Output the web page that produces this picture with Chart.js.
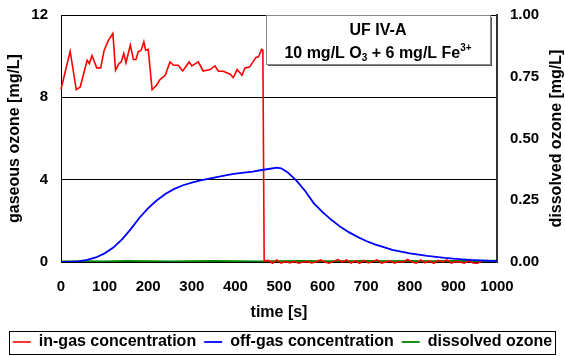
<!DOCTYPE html>
<html>
<head>
<meta charset="utf-8">
<script src="https://cdn.jsdelivr.net/npm/chart.js@4/dist/chart.umd.min.js"></script>
<style>
  html, body { margin: 0; padding: 0; background: #fff; }
  #wrap { width: 565px; height: 356px; }
</style>
</head>
<body>
<div id="wrap"><canvas id="Chart" width="565" height="356"></canvas></div>
<script>
// 凡例ラベル
let seriesLabels = ['in-gas concentration', 'off-gas concentration', 'dissolved ozone'];
let seriesColors = ['#FF0000', '#0000FF', '#008000'];

// in-gas (左軸 mg/L)
let inGasTime = [0, 21, 35, 44, 60, 65, 71, 82, 91, 99, 109, 119, 125, 133, 138, 144, 149, 159, 166, 172, 177, 184, 190, 194, 200,
  209, 219, 227, 239, 250, 258, 269, 279, 294, 300, 315, 326, 342, 353, 361, 372, 388, 395, 404, 415, 422, 433, 447, 453, 460, 463,
  466, 475, 485, 495, 505, 515, 525, 535, 545, 555, 565, 575, 585, 595, 605, 615, 625, 635, 645, 655, 665, 675, 685, 695, 705,
  715, 725, 735, 745, 755, 765, 775, 785, 795, 805, 815, 825, 835, 845, 855, 865, 875, 885, 895, 905, 915, 925, 935, 945, 955,
  965, 975, 985, 995];
let inGasValue = [8.39, 10.24, 8.37, 8.5, 9.8, 9.64, 10.03, 9.43, 9.43, 10.29, 10.78, 11.1, 9.32, 9.64, 9.72, 10.13, 9.68, 10.54,
  9.84, 9.84, 10.21, 10.29, 10.7, 10.29, 10.33, 8.37, 8.59, 8.86, 9.07, 9.72, 9.56, 9.56, 9.28, 9.72, 9.53, 9.72, 9.28, 9.35,
  9.53, 9.27, 9.27, 9.12, 8.96, 9.35, 9.07, 9.43, 9.48, 9.94, 9.97, 10.33, 10.3,
  0.05, 0.08, -0.06, 0.1, -0.05, 0.02, -0.04, 0.03, -0.06, 0.0, 0.02, -0.05, 0.0, 0.1, 0.0, -0.06, 0.03, 0.12, 0.0, 0.1, -0.05,
  0.05, -0.06, 0.08, -0.04, 0.02, 0.1, -0.05, 0.0, 0.05, -0.06, 0.02, 0.0, 0.12, 0.0, -0.05, 0.1, -0.04, 0.05, -0.06, 0.08,
  0.0, 0.1, -0.05, 0.02, 0.0, -0.06, 0.05, -0.05, -0.06, 0.02];

// off-gas (左軸 mg/L)
let offGasTime = [0, 20, 40, 60, 80, 100, 120, 140, 160, 180, 200, 220, 240, 260, 280, 300, 320, 340, 360, 380, 400, 420, 440,
  460, 480, 495, 505, 520, 540, 560, 580, 600, 620, 640, 660, 680, 700, 720, 740, 760, 780, 800, 820, 840, 860, 880, 900, 920,
  940, 960, 980, 1000];
let offGasValue = [0.0, 0.0, 0.03, 0.1, 0.22, 0.42, 0.7, 1.1, 1.6, 2.15, 2.62, 3.0, 3.32, 3.55, 3.73, 3.86, 3.96, 4.05, 4.14,
  4.22, 4.29, 4.34, 4.39, 4.47, 4.53, 4.58, 4.55, 4.35, 3.95, 3.45, 2.85, 2.42, 2.05, 1.72, 1.45, 1.22, 1.02, 0.86, 0.72, 0.59,
  0.5, 0.42, 0.36, 0.3, 0.25, 0.2, 0.16, 0.13, 0.1, 0.08, 0.06, 0.05];

// dissolved (右軸 mg/L)
let dissolvedTime = [0, 50, 100, 150, 200, 250, 300, 350, 400, 450, 500, 550, 600, 650, 700, 750, 800, 850, 900, 950, 1000];
let dissolvedValue = [0.002, 0.003, 0.002, 0.004, 0.003, 0.002, 0.003, 0.004, 0.003, 0.002, 0.003, 0.004, 0.003, 0.003, 0.004,
  0.003, 0.004, 0.003, 0.004, 0.004, 0.005];

// 軸目盛り
let timeTicks = [0, 100, 200, 300, 400, 500, 600, 700, 800, 900, 1000];
let leftTicks = [0, 4, 8, 12];
let rightTicks = [0, 0.25, 0.5, 0.75, 1.0];
let rightTitle = 'dissolved ozone [mg/L]';

let FONT = 'Liberation Sans, Arial, sans-serif';

function toPoints(xs, ys) {
  return xs.map((t, i) => ({x: t, y: ys[i]}));
}

// 軸のサイズ固定（余白を消す）
function fixSize(w, h) {
  return (s) => {
    if (w) s.width = w;
    if (h) s.height = h;
    s.paddingTop = 0;
    s.paddingBottom = 0;
    s.paddingLeft = 0;
    s.paddingRight = 0;
  };
}

// 凡例の枠・右軸タイトル・注記ボックス
let boxPlugin = {
  id: 'boxPlugin',
  afterDraw(chart) {
    let ctx = chart.ctx;
    let lg = chart.legend;
    if (lg && lg.legendHitBoxes && lg.legendHitBoxes.length) {
      let hb = lg.legendHitBoxes;
      let l = hb[0].left - 4;
      let r = hb[hb.length - 1].left + hb[hb.length - 1].width + 3;
      ctx.save();
      ctx.strokeStyle = '#000';
      ctx.lineWidth = 1;
      ctx.strokeRect(Math.round(l) + 0.5, 331.5, Math.round(r - l), 23);
      ctx.restore();
    }
    let a = chart.chartArea;
    // 右軸タイトル（下から上へ）
    ctx.save();
    ctx.translate(557, (a.top + a.bottom) / 2);
    ctx.rotate(-Math.PI / 2);
    ctx.fillStyle = '#000';
    ctx.font = 'bold 16px ' + FONT;
    ctx.textAlign = 'center';
    ctx.textBaseline = 'middle';
    ctx.fillText(rightTitle, 0, 0);
    ctx.restore();
    // 注記
    let bx = 266, by = a.top, bw = 224, bh = 49;
    ctx.save();
    ctx.fillStyle = '#fff';
    ctx.fillRect(bx, by, bw, bh);
    ctx.fillStyle = '#555';
    ctx.fillRect(bx + bw, by + 2, 2, bh);
    ctx.fillRect(bx + 2, by + bh, bw, 2);
    ctx.strokeStyle = '#888';
    ctx.lineWidth = 1;
    ctx.strokeRect(bx + 0.5, by + 0.5, bw, bh);
    ctx.fillStyle = '#000';
    ctx.textBaseline = 'alphabetic';
    ctx.textAlign = 'left';
    let cx = bx + bw / 2;
    ctx.font = 'bold 16px ' + FONT;
    let t1 = 'UF IV-A';
    ctx.fillText(t1, cx - ctx.measureText(t1).width / 2, by + 20);
    let parts = [
      {t: '10 mg/L O', f: 'bold 16px ', dy: 0},
      {t: '3', f: 'bold 10px ', dy: 3},
      {t: ' + 6 mg/L Fe', f: 'bold 16px ', dy: 0},
      {t: '3+', f: 'bold 10px ', dy: -7}
    ];
    let total = 0;
    parts.forEach(p => { ctx.font = p.f + FONT; total += ctx.measureText(p.t).width; });
    let x = cx - total / 2;
    let base = by + 43;
    parts.forEach(p => {
      ctx.font = p.f + FONT;
      ctx.fillText(p.t, x, base + p.dy);
      x += ctx.measureText(p.t).width;
    });
    ctx.restore();
  }
};

let lineCtx = document.getElementById('Chart');
let lineConfig = {
  type: 'line',
  data: {
    datasets: [{
      label: seriesLabels[0],
      data: toPoints(inGasTime, inGasValue),
      borderColor: seriesColors[0],
      backgroundColor: seriesColors[0],
      borderWidth: 1.6,
      yAxisID: 'y',
      clip: 5,
      order: 1
    }, {
      label: seriesLabels[1],
      data: toPoints(offGasTime, offGasValue),
      borderColor: seriesColors[1],
      backgroundColor: seriesColors[1],
      borderWidth: 1.8,
      yAxisID: 'y',
      order: 0
    }, {
      label: seriesLabels[2],
      data: toPoints(dissolvedTime, dissolvedValue),
      borderColor: seriesColors[2],
      backgroundColor: seriesColors[2],
      borderWidth: 1.8,
      yAxisID: 'y2',
      order: 2
    }]
  },
  options: {
    responsive: false,
    animation: false,
    elements: { point: { radius: 0 }, line: { tension: 0 } },
    layout: { autoPadding: false, padding: { top: 15, bottom: -4, left: 0, right: 0 } },
    plugins: {
      tooltip: { enabled: false },
      legend: {
        position: 'bottom',
        labels: {
          usePointStyle: true,
          pointStyle: 'line',
          pointStyleWidth: 18,
          padding: 8,
          color: '#000',
          sort: (a, b) => a.datasetIndex - b.datasetIndex,
          font: { family: FONT, size: 16, weight: 'bold' }
        }
      }
    },
    scales: {
      x: {
        type: 'linear',
        min: 0,
        max: 1000,
        afterBuildTicks: (s) => { s.ticks = timeTicks.map(v => ({value: v})); },
        afterFit: fixSize(0, 64),
        grid: { display: false, drawTicks: false },
        border: { display: true, color: '#000', width: 1 },
        ticks: { padding: 16, color: '#000', maxRotation: 0, callback: (v) => String(v),
          font: { family: FONT, size: 15, weight: 'bold' } },
        title: { display: true, text: 'time [s]', color: '#000', padding: { top: 0, bottom: 5 },
          font: { family: FONT, size: 16, weight: 'bold', lineHeight: 1 } }
      },
      y: {
        position: 'left',
        min: 0,
        max: 12,
        afterBuildTicks: (s) => { s.ticks = leftTicks.map(v => ({value: v})); },
        afterFit: fixSize(61, 0),
        grid: { color: '#000', lineWidth: 1, drawTicks: false },
        border: { display: true, color: '#000', width: 1 },
        ticks: { padding: 13, color: '#000', font: { family: FONT, size: 15, weight: 'bold' } },
        title: { display: true, text: 'gaseous ozone [mg/L]', color: '#000', padding: { top: 7, bottom: 0 },
          font: { family: FONT, size: 16, weight: 'bold', lineHeight: 1 } }
      },
      y2: {
        position: 'right',
        min: 0,
        max: 1,
        afterBuildTicks: (s) => { s.ticks = rightTicks.map(v => ({value: v})); },
        afterFit: fixSize(68, 0),
        grid: { display: false, drawTicks: false },
        border: { display: true, color: '#333', width: 2 },
        ticks: { padding: 13, color: '#000', callback: (v) => Number(v).toFixed(2),
          font: { family: FONT, size: 15, weight: 'bold' } },
        title: { display: false }
      }
    }
  },
  plugins: [boxPlugin]
};
let lineChart = new Chart(lineCtx, lineConfig);
</script>
</body>
</html>
